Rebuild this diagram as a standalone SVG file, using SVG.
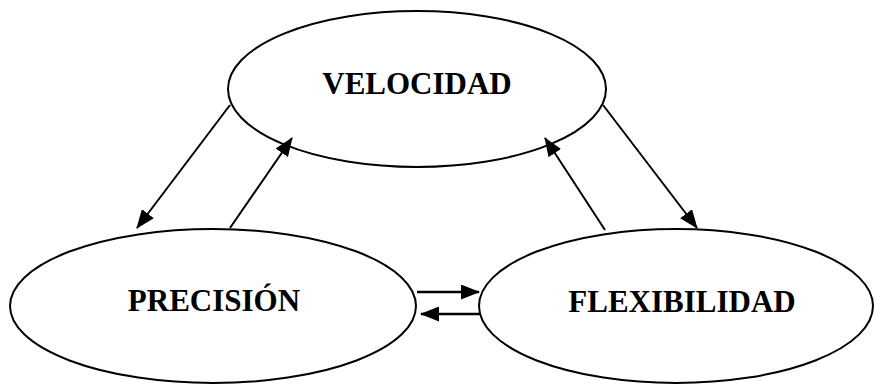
<svg xmlns="http://www.w3.org/2000/svg" width="876" height="385" viewBox="0 0 876 385">
<style>
.node ellipse{fill:#fff;stroke:#000;stroke-width:2}
.node text{font-family:"Liberation Serif","Times New Roman",serif;font-weight:bold;font-size:31px;fill:#000;text-anchor:middle}
.conn line{stroke:#000;stroke-width:2}
.conn line.h{stroke-width:2.5}
</style>
<defs>
<marker id="ah" markerUnits="userSpaceOnUse" markerWidth="19" markerHeight="15" viewBox="0 0 19 15" refX="18" refY="7.5" orient="auto">
<path d="M0,0 L19,7.5 L0,15 z" fill="#000"/>
</marker>
</defs>
<g id="node-velocidad" class="node">
<ellipse cx="417" cy="89" rx="189" ry="78"/>
<text x="417" y="94">VELOCIDAD</text>
</g>
<g id="node-precision" class="node">
<ellipse cx="213" cy="306" rx="203" ry="77"/>
<text x="214" y="311">PRECISIÓN</text>
</g>
<g id="node-flexibilidad" class="node">
<ellipse cx="676" cy="306" rx="197" ry="77"/>
<text x="682" y="312">FLEXIBILIDAD</text>
</g>
<g id="connectors" class="conn">
<line x1="230" y1="105" x2="137" y2="228" marker-end="url(#ah)"/>
<line x1="230" y1="228" x2="292" y2="138" marker-end="url(#ah)"/>
<line x1="605" y1="230" x2="545" y2="138" marker-end="url(#ah)"/>
<line x1="603" y1="105" x2="697" y2="228" marker-end="url(#ah)"/>
<line class="h" x1="417" y1="292" x2="479" y2="292" marker-end="url(#ah)"/>
<line class="h" x1="480" y1="314" x2="421" y2="314" marker-end="url(#ah)"/>
</g>
</svg>
